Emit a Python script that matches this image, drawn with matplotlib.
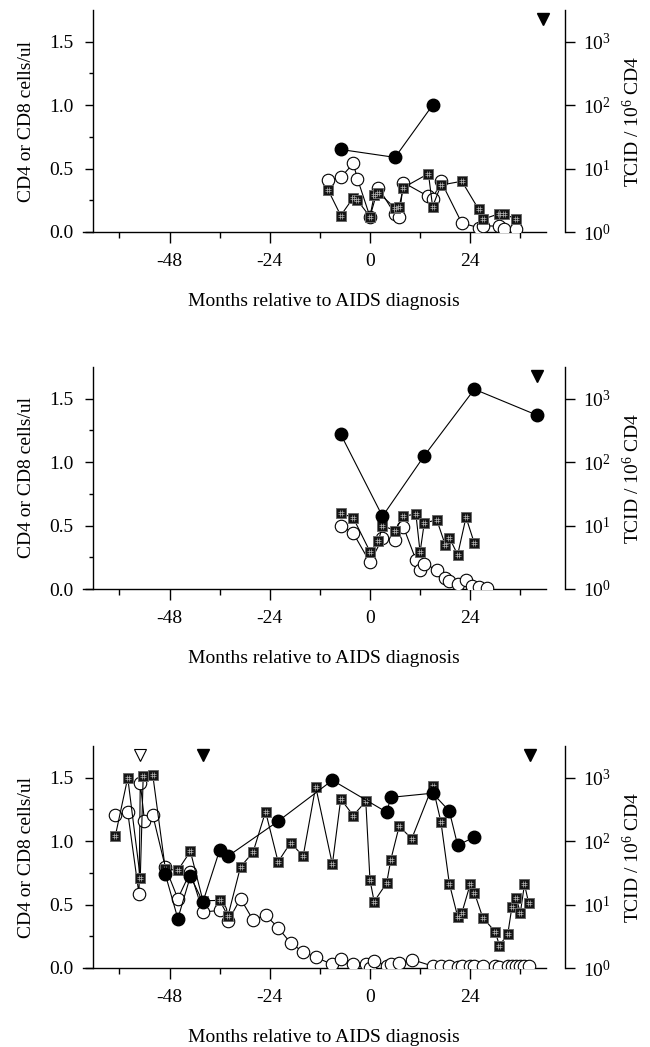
import matplotlib
matplotlib.use('Agg')
import matplotlib.pyplot as plt
from matplotlib.path import Path
from matplotlib.ticker import FixedLocator, NullLocator, FormatStrFormatter

plt.rcParams['font.family'] = ['Liberation Serif', 'DejaVu Serif']
plt.rcParams['mathtext.fontset'] = 'custom'
plt.rcParams['mathtext.rm'] = 'Liberation Serif'
plt.rcParams['mathtext.it'] = 'Liberation Serif:italic'
plt.rcParams['axes.unicode_minus'] = False

# ---------------- data ----------------
# Panel 1
p1_cd4_months = [-10, -7, -4, -3, 0, 2, 6, 7, 8, 14, 15, 17, 22, 26, 27, 31, 32, 35]
p1_cd4 = [0.41, 0.43, 0.54, 0.42, 0.12, 0.35, 0.14, 0.12, 0.39, 0.28, 0.26, 0.40,
          0.07, 0.035, 0.05, 0.045, 0.02, 0.025]
p1_cd8_months = [-10, -7, -4, -3, 0, 1, 2, 6, 7, 8, 14, 15, 17, 22, 26, 27, 31, 32, 35]
p1_cd8 = [0.33, 0.13, 0.27, 0.25, 0.12, 0.29, 0.31, 0.19, 0.20, 0.35, 0.46, 0.20,
          0.37, 0.40, 0.18, 0.10, 0.145, 0.14, 0.105]
p1_tcid_months = [-7, 6, 15]
p1_tcid = [20, 15, 100]
p1_filled_tri = [41.5]
p1_open_tri = []

# Panel 2
p2_cd4_months = [-7, -4, 0, 3, 6, 8, 11, 12, 13, 16, 18, 19, 21, 23, 24.5, 26, 28]
p2_cd4 = [0.50, 0.44, 0.21, 0.40, 0.385, 0.49, 0.23, 0.15, 0.20, 0.15, 0.086,
          0.065, 0.037, 0.07, 0.022, 0.018, 0.006]
p2_cd8_months = [-7, -4, 0, 2, 3, 6, 8, 11, 12, 13, 16, 18, 19, 21, 23, 25]
p2_cd8 = [0.60, 0.56, 0.295, 0.375, 0.50, 0.46, 0.575, 0.59, 0.29, 0.52, 0.545,
          0.35, 0.405, 0.27, 0.565, 0.36]
p2_tcid_months = [-7, 3, 13, 25, 40]
p2_tcid = [275, 14, 126, 1410, 550]
p2_filled_tri = [40]
p2_open_tri = []

# Panel 3
p3_cd4_months = [-61, -58, -55.3, -55, -54, -52, -49, -46, -43, -40, -36, -34, -31,
                 -28, -25, -22, -19, -16, -13, -9, -7, -4, -1, 0, 1, 4, 5, 7, 10,
                 15, 17, 19, 21, 22, 24, 25, 27, 30, 31, 33, 34, 35, 36, 37, 38]
p3_cd4 = [1.205, 1.228, 0.58, 1.462, 1.162, 1.204, 0.795, 0.547, 0.758, 0.441,
          0.454, 0.367, 0.547, 0.379, 0.418, 0.318, 0.197, 0.127, 0.085, 0.028,
          0.069, 0.035, 0.035, 0.003, 0.058, 0.017, 0.033, 0.04, 0.067,
          0.015, 0.015, 0.015, 0.01, 0.012, 0.012, 0.012, 0.012, 0.012, 0.01,
          0.012, 0.012, 0.012, 0.012, 0.012, 0.012]
p3_cd8_months = [-61, -58, -55, -54.3, -52, -49, -46, -43, -40, -36, -34, -31, -28,
                 -25, -22, -19, -16, -13, -9, -7, -4, -1, 0, 1, 4, 5, 7, 10, 15,
                 17, 19, 21, 22, 24, 25, 27, 30, 31, 33, 34, 35, 36, 37, 38]
p3_cd8 = [1.037, 1.50, 0.71, 1.51, 1.52, 0.78, 0.77, 0.92, 0.53, 0.533, 0.41,
          0.797, 0.912, 1.233, 0.837, 0.988, 0.881, 1.43, 0.817, 1.332, 1.202,
          1.314, 0.695, 0.524, 0.67, 0.855, 1.118, 1.019, 1.435, 1.15, 0.666,
          0.405, 0.434, 0.66, 0.594, 0.398, 0.285, 0.177, 0.268, 0.483, 0.555,
          0.434, 0.66, 0.512]
p3_tcid_months = [-49, -46, -43, -40, -36, -34, -22, -9, 4, 5, 15, 19, 21, 25]
p3_tcid = [30, 6.0, 28, 11, 72, 58, 206, 912, 286, 490, 570, 298, 86, 116]
p3_filled_tri = [-40, 38.2]
p3_open_tri = [-55]

panels = [
    (p1_cd4_months, p1_cd4, p1_cd8_months, p1_cd8, p1_tcid_months, p1_tcid,
     p1_filled_tri, p1_open_tri),
    (p2_cd4_months, p2_cd4, p2_cd8_months, p2_cd8, p2_tcid_months, p2_tcid,
     p2_filled_tri, p2_open_tri),
    (p3_cd4_months, p3_cd4, p3_cd8_months, p3_cd8, p3_tcid_months, p3_tcid,
     p3_filled_tri, p3_open_tri),
]

x_major = [-48, -24, 0, 24]
x_minor = [-60, -36, -12, 12, 36]
y_major = [0.0, 0.5, 1.0, 1.5]
y_minor = [0.25, 0.75, 1.25]
r_ticks = [1, 10, 100, 1000]
r_labels = ['$10^{0}$', '$10^{1}$', '$10^{2}$', '$10^{3}$']

# ---------------- style ----------------
W_PX, H_PX = 650, 1047
fig = plt.figure(figsize=(W_PX / 100, H_PX / 100), dpi=100)

XMIN, XMAX = -69.0, 46.7
LEFT_SPINE_X = -66.3
BOTTOM_END = 42.2
TRI_Y = 1.68
FS = 14

ax_left = 81.8 / W_PX
ax_width = (565 - 81.8) / W_PX
bottoms_px = [232, 589, 968]
height = 222 / H_PX

hash_path = Path([(-0.5, -0.22), (0.5, -0.22), (-0.5, 0.22), (0.5, 0.22),
                  (-0.22, -0.5), (-0.22, 0.5), (0.22, -0.5), (0.22, 0.5)],
                 [Path.MOVETO, Path.LINETO] * 4)

for (c4m, c4, c8m, c8, tm, tv, ftri, otri), bpx in zip(panels, bottoms_px):
    ax = fig.add_axes([ax_left, 1 - bpx / H_PX, ax_width, height])
    ax.set_xlim(XMIN, XMAX)
    ax.set_ylim(0, 1.75)
    ax.patch.set_visible(False)

    # CD4 (open circles)
    ax.plot(c4m, c4, '-', color='black', lw=0.8, marker='o', ms=9,
            mfc='white', mec='black', mew=0.8, zorder=3)
    # CD8 (hatched squares)
    ax.plot(c8m, c8, '-', color='black', lw=0.8, marker='s', ms=7.8,
            mfc='#151515', mec='#6a6a6a', mew=0.7, zorder=4)
    ax.plot(c8m, c8, ls='none', marker=hash_path, ms=4.7, mec='#b0b0b0',
            mew=0.5, zorder=5)
    # triangles
    if ftri:
        ax.plot(ftri, [TRI_Y] * len(ftri), ls='none', marker='v', ms=9,
                mfc='black', mec='black', zorder=6, clip_on=False)
    if otri:
        ax.plot(otri, [TRI_Y] * len(otri), ls='none', marker='v', ms=9,
                mfc='white', mec='black', mew=0.8, zorder=6, clip_on=False)

    for s in ['top', 'right']:
        ax.spines[s].set_visible(False)
    ax.spines['left'].set_position(('data', LEFT_SPINE_X))
    ax.spines['bottom'].set_bounds(XMIN + 0.2, BOTTOM_END)
    for s in ['left', 'bottom']:
        ax.spines[s].set_linewidth(1.0)

    ax.xaxis.set_major_locator(FixedLocator(x_major))
    ax.xaxis.set_minor_locator(FixedLocator(x_minor))
    ax.yaxis.set_major_locator(FixedLocator(y_major))
    ax.yaxis.set_minor_locator(FixedLocator(y_minor))
    ax.yaxis.set_major_formatter(FormatStrFormatter('%.1f'))
    ax.tick_params(axis='x', which='major', direction='out', length=8, width=1,
                   pad=7, labelsize=FS)
    ax.tick_params(axis='x', which='minor', direction='out', length=4, width=1)
    ax.tick_params(axis='y', which='major', direction='out', length=6, width=1,
                   pad=8, labelsize=FS)
    ax.tick_params(axis='y', which='minor', direction='out', length=3, width=1)
    ax.set_xlabel('Months relative to AIDS diagnosis', fontsize=FS, labelpad=17)
    ax.set_ylabel('CD4 or CD8 cells/ul', fontsize=FS, labelpad=10)

    # TCID (filled circles) on log right axis
    ax2 = ax.twinx()
    ax2.set_yscale('log')
    ax2.set_ylim(1, 10 ** 3.5)
    ax2.plot(tm, tv, '-', color='black', lw=0.8, marker='o', ms=9,
             mfc='black', mec='black', zorder=5)
    for s in ['top', 'left', 'bottom']:
        ax2.spines[s].set_visible(False)
    ax2.spines['right'].set_linewidth(1.0)
    ax2.yaxis.set_major_locator(FixedLocator(r_ticks))
    ax2.yaxis.set_minor_locator(NullLocator())
    ax2.set_yticklabels(r_labels)
    ax2.tick_params(axis='y', which='major', direction='out', length=7, width=1,
                    pad=6, labelsize=FS)
    ax2.set_ylabel('TCID / 10$^{6}$ CD4', fontsize=FS, labelpad=8)

fig.savefig('out.png', dpi=100)
